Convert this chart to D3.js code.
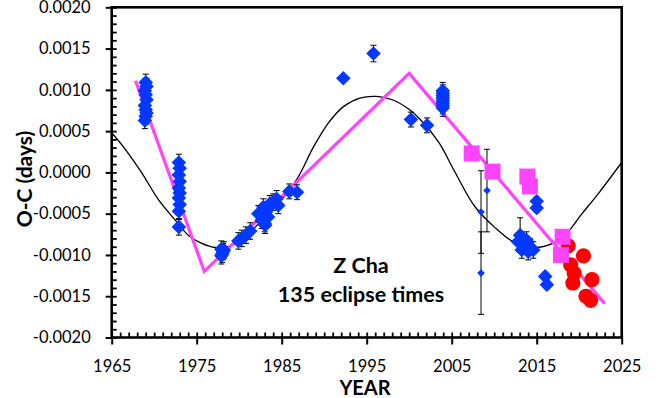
<!DOCTYPE html>
<html>
<head>
<meta charset="utf-8">
<script src="https://cdn.jsdelivr.net/npm/d3@7"></script>
<style>
  html, body { margin: 0; padding: 0; background: #fff; }
  svg { display: block; font-family: Lato, "Open Sans", sans-serif; }
</style>
</head>
<body>
<svg id="chart" width="665" height="398"></svg>
<script>
// Z Cha O-C diagram: eclipse-time residuals against year

// Axis ticks
const xTicks = [1965, 1975, 1985, 1995, 2005, 2015, 2025];
const yTicks = [-0.0020, -0.0015, -0.0010, -0.0005, 0.0000, 0.0005, 0.0010, 0.0015, 0.0020];

// Blue diamonds: eclipse timings with small error bars
const blueYear = [
  1969.0, 1969.1, 1968.9, 1969.0, 1969.1, 1968.9, 1969.0, 1969.1, 1969.0, 1968.9,
  1972.9, 1973.0, 1972.9, 1973.0, 1972.9, 1973.0, 1972.9, 1973.0, 1972.9, 1972.9,
  1977.9, 1978.1, 1978.0, 1977.9, 1978.2,
  1979.9, 1980.3, 1980.8, 1981.3,
  1982.25, 1982.65, 1983.05, 1983.25, 1983.6, 1984.0, 1984.4, 1984.6, 1982.85, 1983.4, 1983.0,
  1985.9, 1986.8,
  1992.25, 1995.8, 2000.2, 2002.1,
  2003.95, 2003.95, 2003.95, 2003.95, 2003.95, 2003.95, 2003.95, 2003.95,
  2013.05, 2012.8, 2013.4, 2013.8, 2014.2, 2014.0, 2013.25, 2014.6,
  2015.0, 2015.0,
  2016.0, 2016.2
];
const blueOC = [
  0.00109, 0.00104, 0.00099, 0.00094, 0.00088, 0.00081, 0.00076, 0.00072, 0.00068, 0.00063,
  0.00012, 0.00005, -0.00003, -0.00011, -0.00019, -0.00025, -0.00031, -0.00039, -0.00047, -0.00066,
  -0.00093, -0.00096, -0.00099, -0.00101, -0.00094,
  -0.00083, -0.00080, -0.00076, -0.00071,
  -0.00050, -0.00058, -0.00064, -0.00046, -0.00038, -0.00036, -0.00032, -0.00040, -0.00042, -0.00054, -0.00062,
  -0.00023, -0.00024,
  0.00114, 0.00144, 0.00064, 0.00057,
  0.00099, 0.00096, 0.00093, 0.00090, 0.00087, 0.00084, 0.00081, 0.00078,
  -0.00076, -0.00084, -0.00088, -0.00082, -0.00090, -0.00096, -0.00094, -0.00094,
  -0.00035, -0.00043,
  -0.00126, -0.00136
];
const blueErr = [
  0.0001, 0.0001, 0.0001, 0.0001, 0.0001, 0.0001, 0.0001, 0.0001, 0.0001, 0.0001,
  0.0001, 0.0001, 0.0001, 0.0001, 0.0001, 0.0001, 0.0001, 0.0001, 0.0001, 0.0001,
  0.0001, 0.0001, 0.0001, 0.0001, 0.0001,
  0.0001, 0.0001, 0.0001, 0.0001,
  0.0001, 0.0001, 0.0001, 0.0001, 0.0001, 0.0001, 0.0001, 0.0001, 0.0001, 0.0001, 0.0001,
  0.00009, 0.00009,
  0, 0.0001, 0.00009, 0.00009,
  0.0001, 0.0001, 0.0001, 0.0001, 0.0001, 0.0001, 0.0001, 0.0001,
  0.00021, 0.0001, 0.0001, 0.0001, 0.0001, 0.0001, 0.0001, 0.0001,
  0.00005, 0.00005,
  0.00005, 0.00005
];

// Small diamonds: low-precision timings with large error bars
const smallYear = [2008.45, 2008.45, 2009.15];
const smallOC = [-0.00048, -0.00122, -0.00022];
const smallErr = [0.0005, 0.0005, 0.0005];

// Magenta squares
const squareYear = [2007.35, 2009.8, 2013.9, 2014.2, 2018.05, 2017.85];
const squareOC = [0.00023, 0.00001, -0.00005, -0.00017, -0.00078, -0.00100];

// Red circles: recent timings
const redYear = [2018.7, 2020.5, 2019.0, 2019.4, 2019.25, 2021.5, 2020.8, 2021.35];
const redOC = [-0.00089, -0.00101, -0.00112, -0.00122, -0.00134, -0.00130, -0.00150, -0.00155];

// Piecewise linear trend (magenta)
const trendYear = [1967.8, 1975.9, 2000.0, 2023.0];
const trendOC = [0.00111, -0.00120, 0.00120, -0.00159];

// Cyclic fit (black curve), values along the curve
const cycleYear = [1965, 1966.6, 1968.5, 1970.5, 1972.4, 1974, 1975.6, 1977.2, 1979, 1980.6,
  1982.2, 1984.4, 1986.8, 1988.7, 1990.5, 1992.3, 1994.2, 1996.1, 1998.0, 1999.9,
  2001.3, 2003.5, 2005.3, 2007.7, 2010.0, 2012.4, 2015.1, 2018.0, 2020.4, 2022.3, 2025];
const cycleOC = [0.00048, 0.00028, 0.00000, -0.00033, -0.00057, -0.00076, -0.00086, -0.00091, -0.00089, -0.00080,
  -0.00063, -0.00040, -0.00008, 0.00030, 0.00060, 0.00080, 0.00090, 0.00092, 0.00088, 0.00077,
  0.00064, 0.00036, 0.00002, -0.00041, -0.00066, -0.00085, -0.00091, -0.00079, -0.00049, -0.00025, 0.00012];

const BLUE = "#0538ff";
const PINK = "#ff44ff";
const RED = "#ff0000";

const svg = d3.select("#chart");
const x = d3.scaleLinear().domain([1965, 2025]).range([111.7, 621.7]);
const y = d3.scaleLinear().domain([-0.0020, 0.0020]).range([337.5, 7.3]);

const [x0, x1] = x.range();
const [y0, y1] = y.range();

// Clip region for the plotted data
svg.append("defs").append("clipPath").attr("id", "plot")
  .append("rect").attr("x", x0).attr("y", y1).attr("width", x1 - x0).attr("height", y0 - y1);

const zip = (a, b, c) => a.map((v, i) => ({ year: v, oc: b[i], err: c ? c[i] : 0 }));
const blue = zip(blueYear, blueOC, blueErr);
const small = zip(smallYear, smallOC, smallErr);
const squares = zip(squareYear, squareOC);
const reds = zip(redYear, redOC);
const trend = zip(trendYear, trendOC);
const cycle = zip(cycleYear, cycleOC);

const plot = svg.append("g").attr("clip-path", "url(#plot)");

// Cyclic fit
plot.append("path")
  .datum(cycle)
  .attr("fill", "none").attr("stroke", "#000").attr("stroke-width", 1.3)
  .attr("d", d3.line().x(d => x(d.year)).y(d => y(d.oc)).curve(d3.curveCatmullRom.alpha(0.5)));

// Linear trend
plot.append("path")
  .datum(trend)
  .attr("fill", "none").attr("stroke", PINK).attr("stroke-width", 3.2)
  .attr("d", d3.line().x(d => x(d.year)).y(d => y(d.oc)));

// Error bars
const errG = plot.append("g").attr("stroke", "#000").attr("stroke-width", 1);
[...blue, ...small].filter(d => d.err > 0).forEach(d => {
  const cx = x(d.year), ya = y(d.oc + d.err), yb = y(d.oc - d.err);
  errG.append("line").attr("x1", cx).attr("x2", cx).attr("y1", ya).attr("y2", yb);
  errG.append("line").attr("x1", cx - 3).attr("x2", cx + 3).attr("y1", ya).attr("y2", ya);
  errG.append("line").attr("x1", cx - 3).attr("x2", cx + 3).attr("y1", yb).attr("y2", yb);
});

// Red circles
plot.append("g").selectAll("circle").data(reds).join("circle")
  .attr("cx", d => x(d.year)).attr("cy", d => y(d.oc)).attr("r", 7.6)
  .attr("fill", RED);

// Diamonds
const diamond = r => `M0,${-r}L${r},0L0,${r}L${-r},0Z`;
plot.append("g").selectAll("path").data(blue).join("path")
  .attr("transform", d => `translate(${x(d.year)},${y(d.oc)})`)
  .attr("d", diamond(7.3)).attr("fill", BLUE);
plot.append("g").selectAll("path").data(small).join("path")
  .attr("transform", d => `translate(${x(d.year)},${y(d.oc)})`)
  .attr("d", diamond(3.8)).attr("fill", BLUE);

// Squares
plot.append("g").selectAll("rect").data(squares).join("rect")
  .attr("x", d => x(d.year) - 8).attr("y", d => y(d.oc) - 8)
  .attr("width", 16).attr("height", 16).attr("fill", PINK);

// Axes
const tickFont = g => g.selectAll("text").attr("font-size", 16.5).attr("fill", "#000")
  .attr("font-family", "Lato, 'Open Sans', sans-serif");

const yMinor = d3.range(-20, 21).map(i => i * 0.0001);
const xMinor = d3.range(1965, 2026);

// y axis: labels and outward major ticks
svg.append("g").attr("transform", `translate(${x0},0)`)
  .call(d3.axisLeft(y).tickValues(yTicks).tickSize(6).tickPadding(15)
    .tickFormat(d => d.toFixed(4)))
  .call(g => g.select(".domain").remove())
  .call(g => g.selectAll("line").attr("stroke-width", 2))
  .call(tickFont);
// y axis: inward minor ticks
svg.append("g").attr("transform", `translate(${x0},0)`)
  .call(d3.axisRight(y).tickValues(yMinor).tickSize(5).tickFormat(""))
  .call(g => g.select(".domain").remove())
  .call(g => g.selectAll("line").attr("stroke-width", 1.8));

// x axis: labels and outward major ticks
svg.append("g").attr("transform", `translate(0,${y0})`)
  .call(d3.axisBottom(x).tickValues(xTicks).tickSize(7).tickPadding(16).tickFormat(d3.format("d")))
  .call(g => g.select(".domain").remove())
  .call(g => g.selectAll("line").attr("stroke-width", 2))
  .call(tickFont);
// x axis: inward minor ticks
svg.append("g").attr("transform", `translate(0,${y0})`)
  .call(d3.axisTop(x).tickValues(xMinor).tickSize(5).tickFormat(""))
  .call(g => g.select(".domain").remove())
  .call(g => g.selectAll("line").attr("stroke-width", 1.8));

// Plot frame
svg.append("rect")
  .attr("x", x0).attr("y", y1).attr("width", x1 - x0).attr("height", y0 - y1)
  .attr("fill", "none").attr("stroke", "#000").attr("stroke-width", 2.6);

// Axis titles
svg.append("text")
  .attr("transform", "translate(32,179) rotate(-90)")
  .attr("text-anchor", "middle").attr("font-weight", 700).attr("font-size", 21)
  .text("O-C (days)");
svg.append("text")
  .attr("x", 365).attr("y", 395)
  .attr("text-anchor", "middle").attr("font-weight", 700).attr("font-size", 20)
  .text("YEAR");

// Annotation
const note = svg.append("g").attr("text-anchor", "middle").attr("font-weight", 700).attr("font-size", 21.5);
note.append("text").attr("x", 361).attr("y", 273).text("Z Cha");
note.append("text").attr("x", 361).attr("y", 302).text("135 eclipse times");
</script>
</body>
</html>
